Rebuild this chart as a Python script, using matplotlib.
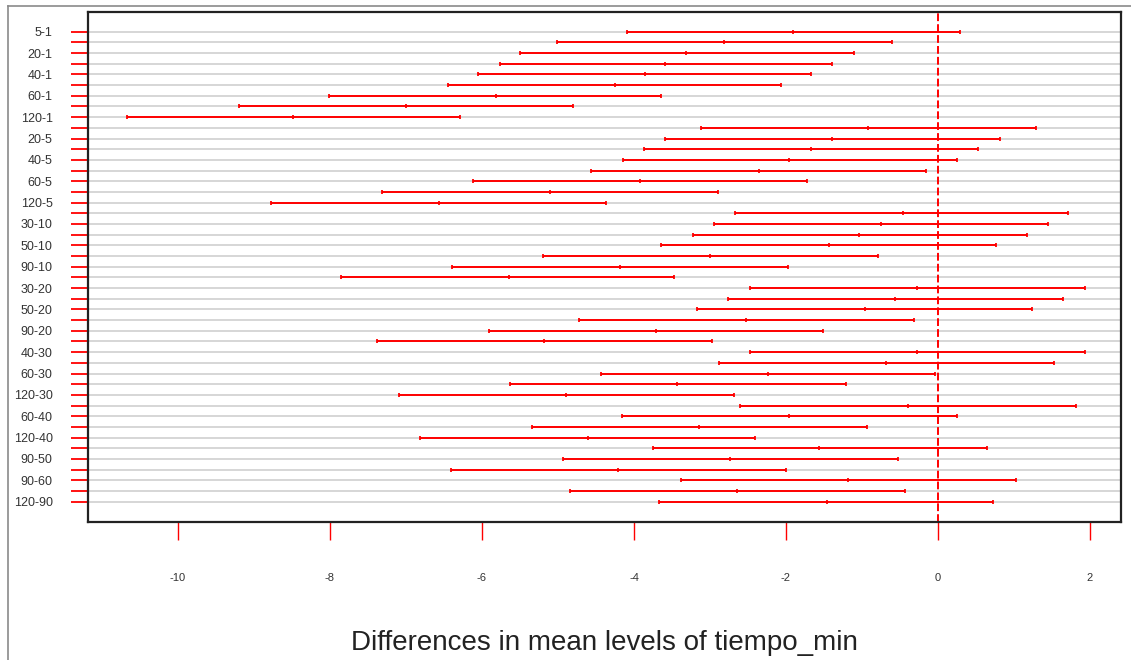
import matplotlib
matplotlib.use("Agg")
import matplotlib.pyplot as plt
from matplotlib.lines import Line2D

plt.rcParams['font.family'] = ['Liberation Sans', 'DejaVu Sans']

# factor levels of tiempo_min
levels = [1, 5, 10, 20, 30, 40, 50, 60, 90, 120]
comparisons = [f"{levels[i]}-{levels[j]}"
               for j in range(len(levels)) for i in range(j + 1, len(levels))]

# Tukey HSD: difference, lower and upper bound
diff = [-1.91, -2.81, -3.31, -3.59, -3.85, -4.25, -5.82, -7.00, -8.49,
        -0.92, -1.39, -1.67, -1.96, -2.36, -3.92, -5.10, -6.57,
        -0.46, -0.75, -1.04, -1.44, -3.00, -4.18, -5.65,
        -0.28, -0.57, -0.96, -2.52, -3.71, -5.18,
        -0.28, -0.68, -2.24, -3.43, -4.89,
        -0.39, -1.96, -3.14, -4.61,
        -1.56, -2.74, -4.21,
        -1.18, -2.64,
        -1.46]
lwr = [-4.09, -5.01, -5.50, -5.76, -6.05, -6.45, -8.01, -9.20, -10.67,
       -3.12, -3.59, -3.87, -4.15, -4.56, -6.12, -7.31, -8.77,
       -2.67, -2.95, -3.23, -3.64, -5.20, -6.39, -7.85,
       -2.48, -2.76, -3.17, -4.72, -5.91, -7.38,
       -2.47, -2.88, -4.44, -5.63, -7.09,
       -2.60, -4.16, -5.34, -6.81,
       -3.75, -4.94, -6.41,
       -3.38, -4.84,
       -3.67]
upr = [0.29, -0.60, -1.10, -1.39, -1.67, -2.07, -3.64, -4.80, -6.29,
       1.29, 0.82, 0.53, 0.25, -0.16, -1.72, -2.90, -4.37,
       1.71, 1.45, 1.17, 0.76, -0.79, -1.98, -3.47,
       1.93, 1.64, 1.24, -0.32, -1.51, -2.98,
       1.93, 1.52, -0.04, -1.21, -2.69,
       1.81, 0.25, -0.94, -2.41,
       0.64, -0.53, -2.00,
       1.03, -0.44,
       0.72]
xticks = [-10, -8, -6, -4, -2, 0, 2]

fig = plt.figure(figsize=(11.31, 6.60), dpi=100)
ax = fig.add_axes([88 / 1131, 1 - 521.7 / 660, (1121 - 88) / 1131, (521.7 - 11.7) / 660])

n = len(comparisons)
rows = list(range(n))

# grey guide line for every comparison
for r in rows:
    ax.axhline(r, color='#d6d6d6', linewidth=1.4, zorder=1)

ax.axvline(0, color='red', linestyle=(0, (4, 1.6)), linewidth=1.4, zorder=2)

ax.hlines(rows, lwr, upr, color='red', linewidth=1.4, zorder=3)
for vals in (lwr, diff, upr):
    ax.plot(vals, rows, linestyle='', marker='|', color='red', markersize=3,
            markeredgewidth=1.3, zorder=4)

ax.set_xlim(-11.184, 2.408)
ax.set_ylim(n - 1 + 1.87, -1.87)

ax.set_yticks(rows)
ax.set_yticklabels([c if k % 2 == 0 else '' for k, c in enumerate(comparisons)])
ax.set_xticks(xticks)
ax.set_xticklabels([str(t) for t in xticks])

ax.tick_params(axis='y', colors='red', length=12.5, width=1.3, pad=13,
               labelsize=9, labelcolor='#333333')
ax.tick_params(axis='x', colors='red', length=13, width=1.0, pad=24,
               labelsize=8, labelcolor='#333333')

for sp in ax.spines.values():
    sp.set_linewidth(1.6)
    sp.set_color('#222222')

fig.text(604 / 1131, 1 - 643 / 660, 'Differences in mean levels of tiempo_min',
         ha='center', va='center', fontsize=20, color='#222222')

# screenshot frame on the left and top
fig.add_artist(Line2D([8 / 1131, 8 / 1131], [0, 1 - 6 / 660], color='#8a8a8a', linewidth=1.2))
fig.add_artist(Line2D([8 / 1131, 1], [1 - 6 / 660, 1 - 6 / 660], color='#8a8a8a', linewidth=1.2))

fig.savefig('out.png', dpi=100)
